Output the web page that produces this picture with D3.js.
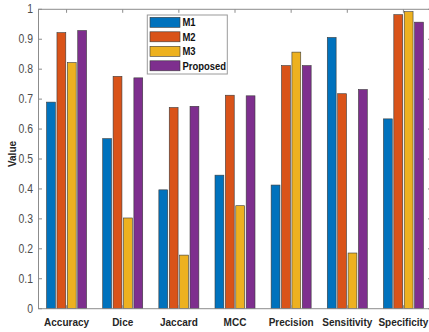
<!DOCTYPE html>
<html><head><meta charset="utf-8">
<script src="https://cdn.jsdelivr.net/npm/d3@7"></script>
<style>html,body{margin:0;padding:0;background:#fff;}svg{display:block;}</style>
</head><body>
<svg id="chart" width="429" height="332"></svg>
<script>
const categories = ["Accuracy","Dice","Jaccard","MCC","Precision","Sensitivity","Specificity"];
const seriesNames = ["M1","M2","M3","Proposed"];
const M1 = [0.690, 0.568, 0.397, 0.446, 0.413, 0.906, 0.634];
const M2 = [0.922, 0.776, 0.672, 0.713, 0.812, 0.718, 0.982];
const M3 = [0.822, 0.303, 0.179, 0.344, 0.857, 0.186, 0.992];
const Proposed = [0.929, 0.771, 0.676, 0.711, 0.812, 0.732, 0.957];
const yTicks = [0,0.1,0.2,0.3,0.4,0.5,0.6,0.7,0.8,0.9,1];
const colors = ["#0072BD","#D95319","#EDB120","#7E2F8E"];
const seriesValues = [M1, M2, M3, Proposed];

const svg = d3.select("#chart");
const L = 38.5, R = 431.5, T = 9.3, B = 308.7;
const x0 = d3.scaleBand().domain(categories).range([L, R]).padding(0);
const groupW = 40;
const x1 = d3.scaleBand().domain(seriesNames).range([0, groupW]).paddingInner(0.15).paddingOuter(0);
const y = d3.scaleLinear().domain([0, 1]).range([B, T]);
const SX = 0.87;
const txtColor = "#262626";
const axColor = "#8c8c8c";

// bars
const rows = [];
seriesNames.forEach((s, si) => categories.forEach((c, ci) => rows.push({s, c, v: seriesValues[si][ci], col: colors[si]})));
svg.append("g").selectAll("rect").data(rows).join("rect")
  .attr("x", d => x0(d.c) + (x0.bandwidth() - groupW) / 2 + x1(d.s))
  .attr("y", d => y(d.v))
  .attr("width", x1.bandwidth())
  .attr("height", d => y(0) - y(d.v))
  .attr("fill", d => d.col)
  .attr("stroke", "#3a3a3a").attr("stroke-width", 0.6);

// axes box
const ax = svg.append("g");
ax.append("rect").attr("x", L).attr("y", T).attr("width", R - L).attr("height", B - T)
  .attr("fill", "none").attr("stroke", axColor).attr("stroke-width", 1);

// y ticks
yTicks.forEach(t => {
  ax.append("line").attr("x1", L).attr("x2", L + 3.5).attr("y1", y(t)).attr("y2", y(t)).attr("stroke", axColor);
  ax.append("line").attr("x1", R).attr("x2", R - 3.5).attr("y1", y(t)).attr("y2", y(t)).attr("stroke", axColor);
  ax.append("text").attr("transform", `translate(${L - 5.5},${y(t) + 4}) scale(${SX},1)`)
    .attr("text-anchor", "end").attr("font-family", "Liberation Sans, Arial, sans-serif")
    .attr("font-size", 12).attr("fill", "#4d4d4d").text(d3.format("")(t));
});
// x ticks
categories.forEach(c => {
  const cx = x0(c) + x0.bandwidth() / 2;
  ax.append("line").attr("x1", cx).attr("x2", cx).attr("y1", T).attr("y2", T + 3.5).attr("stroke", axColor);
  ax.append("line").attr("x1", cx).attr("x2", cx).attr("y1", B).attr("y2", B - 3.5).attr("stroke", axColor);
  ax.append("text").attr("transform", `translate(${cx},${B + 17.5}) scale(${SX},1)`)
    .attr("text-anchor", "middle").attr("font-family", "Liberation Sans, Arial, sans-serif")
    .attr("font-weight", "bold").attr("font-size", 11.5).attr("fill", txtColor).text(c);
});
// y label
svg.append("text").attr("transform", `translate(15.5,${(T + B) / 2 - 5}) rotate(-90) scale(${SX},1)`)
  .attr("text-anchor", "middle").attr("font-family", "Liberation Sans, Arial, sans-serif")
  .attr("font-weight", "bold").attr("font-size", 11.5).attr("fill", txtColor).text("Value");

// legend
const lg = svg.append("g");
lg.append("rect").attr("x", 147.3).attr("y", 15).attr("width", 80).attr("height", 59)
  .attr("fill", "#fff").attr("stroke", "#9a9a9a").attr("stroke-width", 1);
seriesNames.forEach((s, i) => {
  const cy = 22.3 + i * 14.5;
  lg.append("rect").attr("x", 150).attr("y", cy - 5).attr("width", 30).attr("height", 10)
    .attr("fill", colors[i]).attr("stroke", "#3a3a3a").attr("stroke-width", 0.6);
  lg.append("text").attr("transform", `translate(182.5,${cy + 4}) scale(0.86,1)`)
    .attr("font-family", "Liberation Sans, Arial, sans-serif").attr("font-weight", "bold")
    .attr("font-size", 11).attr("fill", "#111").text(s);
});
</script>
</body></html>
